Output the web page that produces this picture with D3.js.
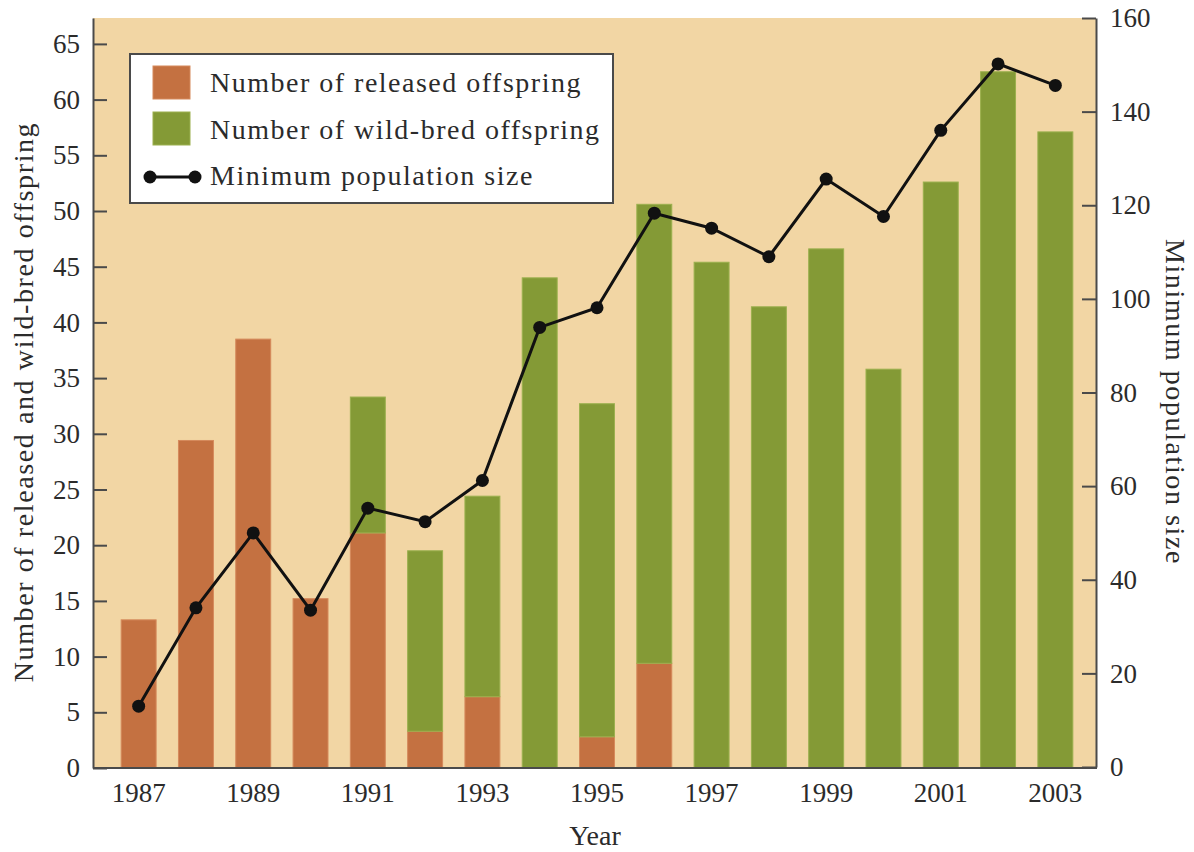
<!DOCTYPE html>
<html>
	<head>
		<title>Offspring and population size</title>

		<style>
			body
			{
				margin: 0;
				background: #ffffff;
			}

			svg
			{
				width: 1194px;
				height: 852px;
				display: block;
			}

			.axis text
			{
				font: 27px "Liberation Serif", serif;
				fill: #2b2b2b;
			}

			.axis path, .axis line, .baseLine
			{
				stroke: #4a4a4a;
				stroke-width: 2px;
				fill: none;
			}

			.axisTitle
			{
				font: 28px "Liberation Serif", serif;
				letter-spacing: 1.6px;
				fill: #2b2b2b;
				text-anchor: middle;
			}

			.legendText
			{
				font: 28px "Liberation Serif", serif;
				letter-spacing: 1.5px;
				fill: #2b2b2b;
			}

			.released
			{
				fill: #c47141;
				stroke: #d58a5c;
				stroke-width: 1px;
			}

			.wild
			{
				fill: #849a36;
				stroke: #9bb04e;
				stroke-width: 1px;
			}

			.popLine
			{
				stroke: #111111;
				stroke-width: 3px;
				fill: none;
			}

			.popDot
			{
				fill: #111111;
			}
		</style>

		<script src="https://cdn.jsdelivr.net/npm/d3@7"></script>
	</head>

	<body>
		<svg></svg>

		<script>
			// values
			var years = d3.range(1987, 2004);
			var released = [13.3, 29.4, 38.5, 15.2, 21.1, 3.3, 6.4, 0, 2.8, 9.4, 0, 0, 0, 0, 0, 0, 0];
			var wildBred = [0, 0, 0, 0, 12.2, 16.2, 18.0, 44.0, 29.9, 41.2, 45.4, 41.4, 46.6, 35.8, 52.6, 62.5, 57.1];
			var popSize = [13, 34, 50, 33.5, 55.3, 52.4, 61.2, 93.9, 98.1, 118.3, 115.1, 109, 125.6, 117.6, 136, 150.2, 145.6];

			var leftTicks = d3.range(0, 66, 5);
			var rightTicks = d3.range(0, 161, 20);
			var yearTicks = [1987, 1989, 1991, 1993, 1995, 1997, 1999, 2001, 2003];

			var legendLabels = ["Number of released offspring", "Number of wild-bred offspring", "Minimum population size"];

			var plotLeft = 93, plotRight = 1096, plotTop = 18, plotBottom = 768;

			var svg = d3.select("svg");

			var x = d3.scaleBand()
				.domain(years)
				.range([110, 1084])
				.paddingInner(0.39)
				.paddingOuter(0.195);

			var yLeft = d3.scaleLinear()
				.domain([0, (plotBottom - plotTop) / 11.14])
				.range([plotBottom, plotTop]);

			var yRight = d3.scaleLinear()
				.domain([0, 160])
				.range([767, plotTop]);

			// background of the plot area
			svg.append("rect")
				.attr("x", plotLeft)
				.attr("y", plotTop)
				.attr("width", plotRight - plotLeft)
				.attr("height", plotBottom - plotTop)
				.attr("fill", "#f2d6a4");

			// stacked bars
			var rows = years.map(function(y, i)
			{
				return { year: y, released: released[i], wild: wildBred[i] };
			});

			svg.selectAll("rect.released")
				.data(rows.filter(function(d) { return d.released > 0; }))
				.enter()
				.append("rect")
				.attr("class", "released")
				.attr("x", function(d) { return x(d.year); })
				.attr("width", x.bandwidth())
				.attr("y", function(d) { return yLeft(d.released); })
				.attr("height", function(d) { return yLeft(0) - yLeft(d.released); });

			svg.selectAll("rect.wild")
				.data(rows.filter(function(d) { return d.wild > 0; }))
				.enter()
				.append("rect")
				.attr("class", "wild")
				.attr("x", function(d) { return x(d.year); })
				.attr("width", x.bandwidth())
				.attr("y", function(d) { return yLeft(d.released + d.wild); })
				.attr("height", function(d) { return yLeft(d.released) - yLeft(d.released + d.wild); });

			// population line
			var cx = function(d, i) { return x(years[i]) + x.bandwidth() / 2; };

			svg.append("path")
				.datum(popSize)
				.attr("class", "popLine")
				.attr("d", d3.line().x(cx).y(function(d) { return yRight(d); }));

			svg.selectAll("circle.popDot")
				.data(popSize)
				.enter()
				.append("circle")
				.attr("class", "popDot")
				.attr("cx", cx)
				.attr("cy", function(d) { return yRight(d); })
				.attr("r", 6.5);

			// axes
			svg.append("g")
				.attr("class", "axis")
				.attr("transform", "translate(" + plotLeft + ",0)")
				.call(d3.axisLeft(yLeft).tickValues(leftTicks).tickSizeInner(-14).tickSizeOuter(0).tickPadding(13));

			svg.append("g")
				.attr("class", "axis")
				.attr("transform", "translate(" + plotRight + ",0)")
				.call(d3.axisRight(yRight).tickValues(rightTicks).tickSizeInner(-14).tickSizeOuter(0).tickPadding(14));

			var xAxis = svg.append("g")
				.attr("class", "axis")
				.attr("transform", "translate(0," + plotBottom + ")")
				.call(d3.axisBottom(x).tickValues(yearTicks).tickSize(0).tickPadding(15));
			xAxis.select(".domain").remove();

			svg.append("line")
				.attr("class", "baseLine")
				.attr("x1", plotLeft)
				.attr("x2", plotRight + 1)
				.attr("y1", plotBottom)
				.attr("y2", plotBottom);

			// axis titles
			svg.append("text")
				.attr("class", "axisTitle")
				.attr("transform", "translate(33,402) rotate(-90)")
				.text("Number of released and wild-bred offspring");

			svg.append("text")
				.attr("class", "axisTitle")
				.attr("transform", "translate(1166,402) rotate(90)")
				.text("Minimum population size");

			svg.append("text")
				.attr("class", "axisTitle")
				.attr("x", 595)
				.attr("y", 845)
				.style("letter-spacing", "0px")
				.text("Year");

			// legend
			var legend = svg.append("g");

			legend.append("rect")
				.attr("x", 130)
				.attr("y", 54)
				.attr("width", 483)
				.attr("height", 149)
				.attr("fill", "#ffffff")
				.attr("stroke", "#4a4a4a")
				.attr("stroke-width", 2);

			legend.append("rect")
				.attr("class", "released")
				.attr("x", 153)
				.attr("y", 66)
				.attr("width", 37)
				.attr("height", 33);

			legend.append("rect")
				.attr("class", "wild")
				.attr("x", 153)
				.attr("y", 112)
				.attr("width", 37)
				.attr("height", 33);

			legend.append("line")
				.attr("class", "popLine")
				.attr("x1", 150)
				.attr("x2", 195)
				.attr("y1", 177)
				.attr("y2", 177);

			legend.selectAll("circle")
				.data([150, 195])
				.enter()
				.append("circle")
				.attr("class", "popDot")
				.attr("cx", function(d) { return d; })
				.attr("cy", 177)
				.attr("r", 6.5);

			legend.selectAll("text.legendText")
				.data(legendLabels)
				.enter()
				.append("text")
				.attr("class", "legendText")
				.attr("x", 210)
				.attr("y", function(d, i) { return 92 + i * 46.5; })
				.text(function(d) { return d; });
		</script>
	</body>
</html>
